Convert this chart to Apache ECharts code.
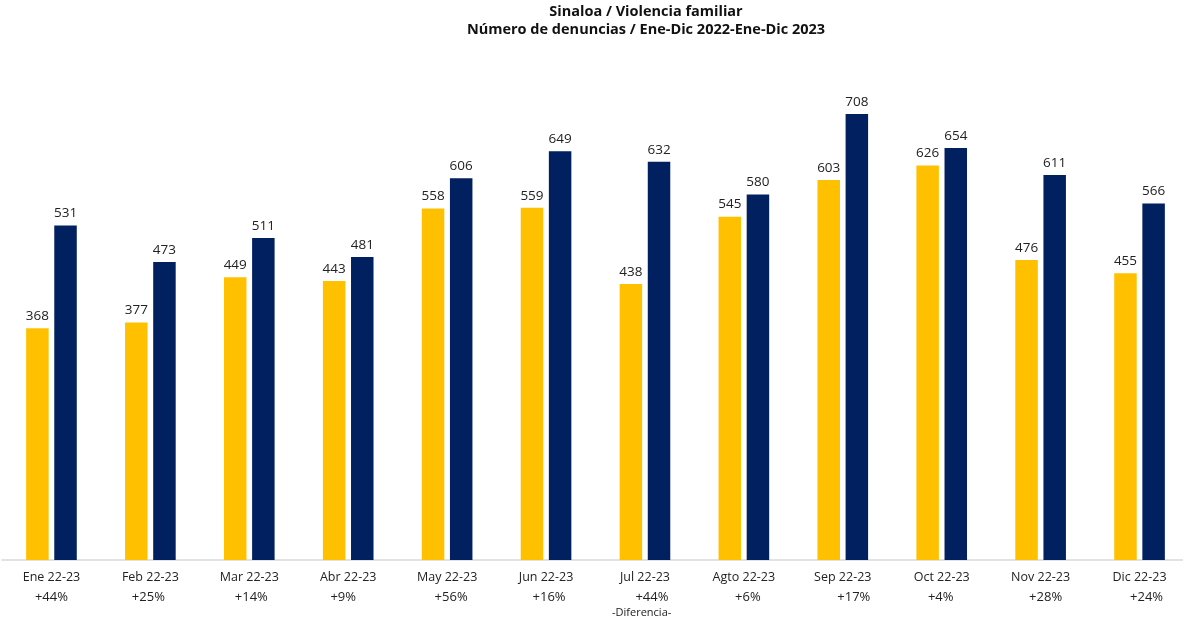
<!DOCTYPE html>
<html><head><meta charset="utf-8">
<script src="https://cdn.jsdelivr.net/npm/echarts@6/dist/echarts.min.js"></script>
<style>html,body{margin:0;padding:0;background:#fff}#c{width:1183px;height:619px}</style>
</head><body><div id="c"></div>
<script>
const categories = ["Ene 22-23","Feb 22-23","Mar 22-23","Abr 22-23","May 22-23","Jun 22-23","Jul 22-23","Agto 22-23","Sep 22-23","Oct 22-23","Nov 22-23","Dic 22-23"];
const diffs = ["+44%","+25%","+14%","+9%","+56%","+16%","+44%","+6%","+17%","+4%","+28%","+24%"];
const values2022 = [368,377,449,443,558,559,438,545,603,626,476,455];
const values2023 = [531,473,511,481,606,649,632,580,708,654,611,566];
// horizontal nudge (px) of each percentage label, styling only
const pctShift = [0,-2,2,-5,4,3,7,4,11,-1,5,7];
const font = "'Open Sans', sans-serif";
const rich = {n:{fontFamily:font,fontSize:12.5,color:'#222',lineHeight:20}};
pctShift.forEach((s,i)=>{
  rich['p'+i] = {fontFamily:font,fontSize:13,color:'#222',lineHeight:20,
    padding:[0, s<0?-2*s:0, 0, s>0?2*s:0]};
});
const chart = echarts.init(document.getElementById('c'));
chart.setOption({
  animation:false,
  backgroundColor:'#fff',
  title:{text:'Sinaloa / Violencia familiar\nNúmero de denuncias / Ene-Dic 2022-Ene-Dic 2023',left:641,textAlign:'center',top:-2,
    textStyle:{fontFamily:font,fontSize:14.5,fontWeight:'bold',color:'#111',lineHeight:18}},
  grid:{left:2,width:1187,top:56,height:504,outerBoundsMode:'none',containLabel:false},
  xAxis:{type:'category',data:categories,
    axisLine:{lineStyle:{color:'#d9d9d9',width:1.5}},axisTick:{show:false},
    axisLabel:{interval:0,margin:7,rich:rich,hideOverlap:false,
      formatter:(v,i)=>'{n|'+v+'}\n{p'+i+'|'+diffs[i]+'}'}},
  yAxis:{type:'value',min:0,max:800,show:false,splitLine:{show:false}},
  graphic:[{type:'text',left:612,top:607,style:{text:'-Diferencia-',font:'11px '+font,fill:'#222'}}],
  series:[
    {name:'2022',type:'bar',data:values2022,barWidth:22.5,barGap:'25%',itemStyle:{color:'#FFC000'},
     label:{show:true,position:'top',distance:5,fontFamily:font,fontSize:13.5,color:'#222'}},
    {name:'2023',type:'bar',data:values2023,barWidth:22.5,itemStyle:{color:'#002060'},
     label:{show:true,position:'top',distance:5,fontFamily:font,fontSize:13.5,color:'#222'}}
  ]
});
</script></body></html>
